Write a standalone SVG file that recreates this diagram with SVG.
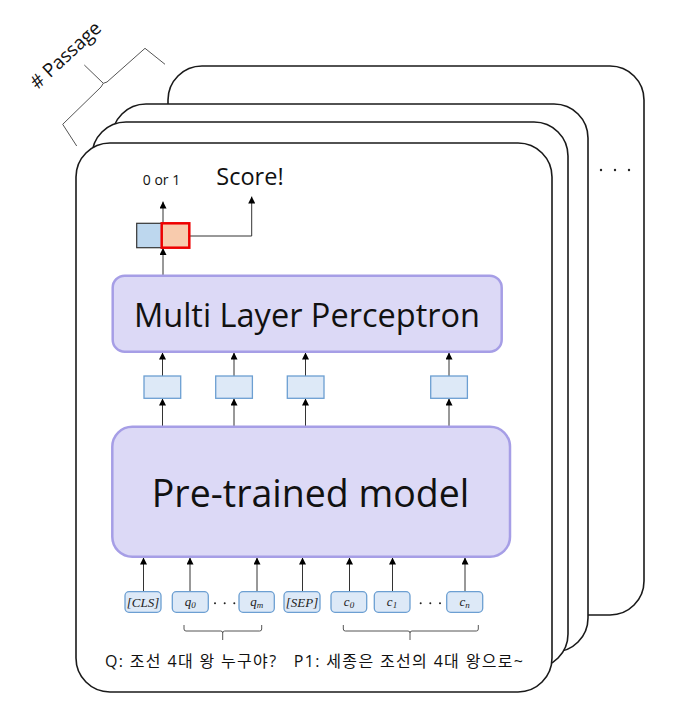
<svg xmlns="http://www.w3.org/2000/svg" width="684" height="712" viewBox="0 0 684 712">
<defs>
<style>
.card{fill:#fff;stroke:#1a1a1a;stroke-width:1.6}
.big{fill:#dcd9f6;stroke:#a69ee6;stroke-width:2.5}
.emb{fill:#dde9f7;stroke:#6c9fd2;stroke-width:1.3}
.tok{fill:#dde9f7;stroke:#6c9fd2;stroke-width:1.3}
.arr{stroke:#333;stroke-width:1;fill:none;marker-end:url(#ah)}
.brace{stroke:#555;stroke-width:1;fill:none;stroke-linejoin:round}
.sans{font-family:"Open Sans","Noto Sans","Noto Sans CJK KR",sans-serif;fill:#111}
.math{font-family:"Liberation Serif",serif;font-style:italic;font-size:13px;fill:#222}
.dot{fill:#222}
</style>
<marker id="ah" viewBox="0 0 10 10" refX="10" refY="5" markerWidth="7" markerHeight="7" markerUnits="userSpaceOnUse" orient="auto">
<path d="M0,0 L10,5 L0,10 z" fill="#000"/>
</marker>
</defs>
<g id="cards">
<rect class="card" x="168" y="66" width="476" height="549" rx="34"/>
<rect class="card" x="112" y="104" width="476" height="548" rx="34"/>
<rect class="card" x="92" y="122" width="476" height="546" rx="34"/>
<rect class="card" x="76" y="143" width="476" height="549" rx="34"/>
</g>
<g id="more-dots">
<circle class="dot" cx="601" cy="170" r="1.2"/>
<circle class="dot" cx="615" cy="170" r="1.2"/>
<circle class="dot" cx="629" cy="170" r="1.2"/>
</g>
<g id="passage-brace">
<path class="brace" d="M76.7,146 L62.7,124.3 L101,87 L103.3,83.3 L84.3,65 M103.3,83.3 L107,82 L145,48.3 L165,64.3"/>
<text class="sans" font-size="19" text-anchor="middle" transform="translate(70,60) rotate(-43)"># Passage</text>
</g>
<g id="connectors">
<line class="arr" x1="143.5" y1="591.7" x2="143.5" y2="557.5"/>
<line class="arr" x1="190" y1="591.7" x2="190" y2="557.5"/>
<line class="arr" x1="257" y1="591.7" x2="257" y2="557.5"/>
<line class="arr" x1="302.5" y1="591.7" x2="302.5" y2="557.5"/>
<line class="arr" x1="349.5" y1="591.7" x2="349.5" y2="557.5"/>
<line class="arr" x1="392.5" y1="591.7" x2="392.5" y2="557.5"/>
<line class="arr" x1="465" y1="591.7" x2="465" y2="557.5"/>
<line class="arr" x1="162.5" y1="426" x2="162.5" y2="398.5"/>
<line class="arr" x1="234" y1="426" x2="234" y2="398.5"/>
<line class="arr" x1="305.5" y1="426" x2="305.5" y2="398.5"/>
<line class="arr" x1="449" y1="426" x2="449" y2="398.5"/>
<line class="arr" x1="162.5" y1="376" x2="162.5" y2="352.5"/>
<line class="arr" x1="234" y1="376" x2="234" y2="352.5"/>
<line class="arr" x1="305.5" y1="376" x2="305.5" y2="352.5"/>
<line class="arr" x1="449" y1="376" x2="449" y2="352.5"/>
<line class="arr" x1="163" y1="275" x2="163" y2="248"/>
<line class="arr" x1="163" y1="223" x2="163" y2="201.5"/>
<path class="arr" d="M189.3,236 H251.7 V196.5"/>
</g>
<g id="output">
<rect x="136.7" y="223.3" width="25" height="24.4" fill="#bdd7ee" stroke="#333" stroke-width="1.2"/>
<rect x="161.7" y="223.3" width="27.6" height="24.4" fill="#f8cbad" stroke="#ee0000" stroke-width="2.5"/>
<text class="sans" x="161.5" y="185" font-size="14" text-anchor="middle">0 or 1</text>
<text class="sans" x="250" y="185" font-size="23.5" text-anchor="middle">Score!</text>
</g>
<g id="mlp">
<rect class="big" x="112.7" y="275.7" width="389" height="76" rx="12"/>
<text class="sans" x="307" y="327" font-size="32.5" text-anchor="middle">Multi Layer Perceptron</text>
</g>
<g id="embeddings">
<rect class="emb" x="144" y="376" width="36.7" height="22.3"/>
<rect class="emb" x="215.7" y="376" width="36.7" height="22.3"/>
<rect class="emb" x="287.3" y="376" width="36.7" height="22.3"/>
<rect class="emb" x="430.7" y="376" width="36.7" height="22.3"/>
</g>
<g id="pretrained">
<rect class="big" x="112.3" y="426.7" width="397.7" height="130" rx="20"/>
<text class="sans" x="310.5" y="507" font-size="37.5" text-anchor="middle">Pre-trained model</text>
</g>
<g id="tokens">
<g id="tok-cls"><rect class="tok" x="125" y="591.7" width="36" height="20.6" rx="4"/><text class="math" x="143" y="606.5" text-anchor="middle">[CLS]</text></g>
<g id="tok-q0"><rect class="tok" x="172.3" y="591.7" width="36" height="20.6" rx="4"/><text class="math" x="190.3" y="605.5" text-anchor="middle">q<tspan font-size="9" dy="2">0</tspan></text></g>
<g id="tok-qm"><rect class="tok" x="239" y="591.7" width="35.3" height="20.6" rx="4"/><text class="math" x="256.7" y="605.5" text-anchor="middle">q<tspan font-size="9" dy="2">m</tspan></text></g>
<g id="tok-sep"><rect class="tok" x="284" y="591.7" width="36" height="20.6" rx="4"/><text class="math" x="302" y="606.5" text-anchor="middle">[SEP]</text></g>
<g id="tok-c0"><rect class="tok" x="331" y="591.7" width="35.7" height="20.6" rx="4"/><text class="math" x="349" y="605.5" text-anchor="middle">c<tspan font-size="9" dy="2">0</tspan></text></g>
<g id="tok-c1"><rect class="tok" x="374.3" y="591.7" width="35.7" height="20.6" rx="4"/><text class="math" x="392" y="605.5" text-anchor="middle">c<tspan font-size="9" dy="2">1</tspan></text></g>
<g id="tok-cn"><rect class="tok" x="446.7" y="591.7" width="36" height="20.6" rx="4"/><text class="math" x="464.7" y="605.5" text-anchor="middle">c<tspan font-size="9" dy="2">n</tspan></text></g>
<circle class="dot" cx="215" cy="603.3" r="1"/>
<circle class="dot" cx="224.7" cy="603.3" r="1"/>
<circle class="dot" cx="234.3" cy="603.3" r="1"/>
<circle class="dot" cx="420.7" cy="603.3" r="1"/>
<circle class="dot" cx="430.3" cy="603.3" r="1"/>
<circle class="dot" cx="440" cy="603.3" r="1"/>
</g>
<g id="braces">
<path class="brace" d="M184,625 V629 Q184,631 186,631 H220.7 Q222.7,631 222.7,633 V640 M222.7,633 Q222.7,631 224.7,631 H259.7 Q261.7,631 261.7,629 V625"/>
<path class="brace" d="M343.3,625 V629 Q343.3,631 345.3,631 H408 Q410,631 410,633 V640 M410,633 Q410,631 412,631 H476.3 Q478.3,631 478.3,629 V625"/>
</g>
<g id="caption">
<text class="sans" x="105" y="666.7" font-size="16" font-family="'Noto Sans CJK KR',sans-serif" textLength="418" lengthAdjust="spacing" xml:space="preserve">Q: 조선 4대 왕 누구야?   P1: 세종은 조선의 4대 왕으로~</text>
</g>
</svg>
